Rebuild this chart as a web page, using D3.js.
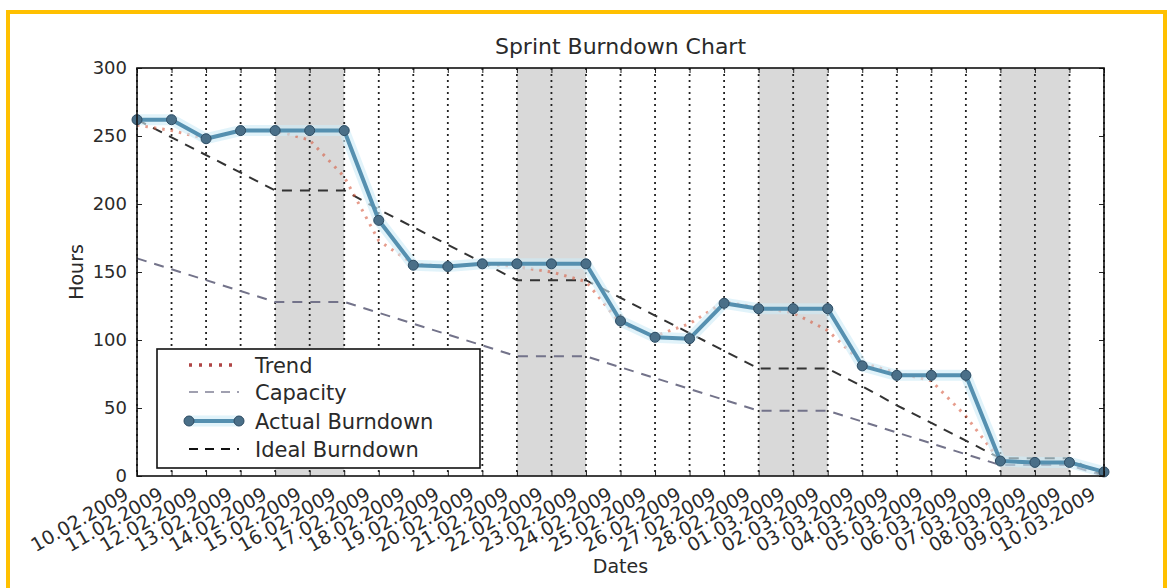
<!DOCTYPE html>
<html>
<head>
<meta charset="utf-8">
<script src="https://cdn.jsdelivr.net/npm/d3@7"></script>
<style>
  body { margin: 0; background: #fff; }
  text { font-family: "DejaVu Sans", sans-serif; fill: #2a2a2a; }
</style>
</head>
<body>
<div id="chart-area"></div>
<script>
// tick labels (one per sprint day)
let dates = ["10.02.2009", "11.02.2009", "12.02.2009", "13.02.2009", "14.02.2009", "15.02.2009",
  "16.02.2009", "17.02.2009", "18.02.2009", "19.02.2009", "20.02.2009", "21.02.2009", "22.02.2009",
  "23.02.2009", "24.02.2009", "25.02.2009", "26.02.2009", "27.02.2009", "28.02.2009", "01.03.2009",
  "02.03.2009", "03.03.2009", "04.03.2009", "05.03.2009", "06.03.2009", "07.03.2009", "08.03.2009",
  "09.03.2009", "10.03.2009"];

let actualBurndown = [262, 262, 248, 254, 254, 254, 254, 188, 155, 154, 156, 156, 156, 156,
  114, 102, 101, 127, 123, 123, 123, 81, 74, 74, 74, 11, 10, 10, 3];

let idealBurndown = [262, 249, 236, 223, 210, 210, 210, 196, 183, 170, 157, 144, 144, 144,
  131, 118, 105, 92, 79, 79, 79, 66, 52, 39, 26, 13, 13, 13, 0];

let capacity = [160, 152, 144, 136, 128, 128, 128, 120, 112, 104, 96, 88, 88, 88,
  80, 72, 64, 56, 48, 48, 48, 40, 32, 24, 16, 8, 8, 8, 0];

let trend = [258, 254, 248, 254, 254, 247, 220, 173, 156, 154, 156, 154, 150, 143,
  112, 103, 112, 128, 124, 120, 107, 83, 76, 70, 44, 11, 10, 10, 3];

// weekends (shaded)
let weekends = [["14.02.2009", "16.02.2009"], ["21.02.2009", "23.02.2009"],
  ["28.02.2009", "02.03.2009"], ["07.03.2009", "09.03.2009"]];

let yTicks = [0, 50, 100, 150, 200, 250, 300];

let legendItems = ["Trend", "Capacity", "Actual Burndown", "Ideal Burndown"];


BurndownChart = function(_parentElement) {
  this.parentElement = _parentElement;
  this.initVis();
};

BurndownChart.prototype.initVis = function() {
  let vis = this;

  vis.margin = { top: 68, right: 66, bottom: 112, left: 137 };
  vis.width = 1170 - vis.margin.left - vis.margin.right;
  vis.height = 588 - vis.margin.top - vis.margin.bottom;

  vis.root = d3.select("#" + vis.parentElement).append("svg")
    .attr("width", 1170)
    .attr("height", 588);

  // yellow frame around the picture
  vis.root.append("rect")
    .attr("x", 8).attr("y", 12)
    .attr("width", 1157).attr("height", 600)
    .attr("fill", "none")
    .attr("stroke", "#ffc000")
    .attr("stroke-width", 4);

  vis.svg = vis.root.append("g")
    .attr("transform", "translate(" + vis.margin.left + "," + vis.margin.top + ")");

  vis.x = d3.scalePoint().domain(dates).range([0, vis.width]);
  vis.y = d3.scaleLinear().domain([0, 300]).range([vis.height, 0]);

  vis.rows = dates.map(function(d, i) {
    return { date: d, actual: actualBurndown[i], ideal: idealBurndown[i], capacity: capacity[i], trend: trend[i] };
  });

  vis.updateVis();
};

BurndownChart.prototype.updateVis = function() {
  let vis = this;

  // weekend shading
  vis.svg.selectAll(".weekend")
    .data(weekends)
    .enter().append("rect")
    .attr("class", "weekend")
    .attr("x", function(d) { return vis.x(d[0]); })
    .attr("width", function(d) { return vis.x(d[1]) - vis.x(d[0]); })
    .attr("y", 0)
    .attr("height", vis.height)
    .attr("fill", "#d9d9d9");

  // vertical dotted grid
  vis.svg.selectAll(".grid")
    .data(dates)
    .enter().append("line")
    .attr("class", "grid")
    .attr("x1", function(d) { return vis.x(d); })
    .attr("x2", function(d) { return vis.x(d); })
    .attr("y1", 0)
    .attr("y2", vis.height)
    .attr("stroke", "#222")
    .attr("stroke-width", 1.8)
    .attr("stroke-dasharray", "2,4");

  let line = function(key) {
    return d3.line()
      .x(function(d) { return vis.x(d.date); })
      .y(function(d) { return vis.y(d[key]); });
  };

  // capacity
  vis.svg.append("path")
    .datum(vis.rows)
    .attr("d", line("capacity"))
    .attr("fill", "none")
    .attr("stroke", "#73738a")
    .attr("stroke-width", 2)
    .attr("stroke-dasharray", "10,8");

  // ideal burndown
  vis.svg.append("path")
    .datum(vis.rows)
    .attr("d", line("ideal"))
    .attr("fill", "none")
    .attr("stroke", "#333")
    .attr("stroke-width", 2)
    .attr("stroke-dasharray", "10,8");

  // trend
  vis.svg.append("path")
    .datum(vis.rows)
    .attr("d", line("trend"))
    .attr("fill", "none")
    .attr("stroke", "#d65a40")
    .attr("stroke-opacity", 0.6)
    .attr("stroke-width", 3)
    .attr("stroke-dasharray", "2.5,6");

  // actual burndown: glow, line, markers
  vis.svg.append("path")
    .datum(vis.rows)
    .attr("d", line("actual"))
    .attr("fill", "none")
    .attr("stroke", "#cdebf6")
    .attr("stroke-opacity", 0.6)
    .attr("stroke-width", 11)
    .attr("stroke-linejoin", "round");

  vis.svg.append("path")
    .datum(vis.rows)
    .attr("d", line("actual"))
    .attr("fill", "none")
    .attr("stroke", "#5590b0")
    .attr("stroke-width", 4)
    .attr("stroke-linejoin", "round");

  vis.svg.selectAll(".dot")
    .data(vis.rows)
    .enter().append("circle")
    .attr("class", "dot")
    .attr("cx", function(d) { return vis.x(d.date); })
    .attr("cy", function(d) { return vis.y(d.actual); })
    .attr("r", 5)
    .attr("fill", "#4a6f88")
    .attr("stroke", "#2e4c63")
    .attr("stroke-width", 1);

  // axes (inward ticks, mirrored)
  vis.xAxis = d3.axisBottom(vis.x).tickSizeInner(-5).tickSizeOuter(0).tickFormat("");
  vis.xAxisTop = d3.axisTop(vis.x).tickSizeInner(-5).tickSizeOuter(0).tickFormat("");
  vis.yAxis = d3.axisLeft(vis.y).tickValues(yTicks).tickSizeInner(-5).tickSizeOuter(0).tickPadding(10);
  vis.yAxisRight = d3.axisRight(vis.y).tickValues(yTicks).tickSizeInner(-5).tickSizeOuter(0).tickFormat("");

  vis.svg.append("g").attr("class", "axis")
    .attr("transform", "translate(0," + vis.height + ")").call(vis.xAxis);
  vis.svg.append("g").attr("class", "axis").call(vis.xAxisTop);
  vis.svg.append("g").attr("class", "axis y-axis").call(vis.yAxis);
  vis.svg.append("g").attr("class", "axis")
    .attr("transform", "translate(" + vis.width + ",0)").call(vis.yAxisRight);

  vis.svg.selectAll(".axis .domain").remove();
  vis.svg.selectAll(".axis line").attr("stroke", "#222");
  vis.svg.selectAll(".y-axis text")
    .style("font-size", "18px")
    .style("font-family", "DejaVu Sans")
    .attr("fill", "#2a2a2a");

  // frame
  vis.svg.append("rect")
    .attr("width", vis.width).attr("height", vis.height)
    .attr("fill", "none").attr("stroke", "#111").attr("stroke-width", 1.6);

  // rotated date labels
  vis.svg.selectAll(".date-label")
    .data(dates)
    .enter().append("text")
    .attr("class", "date-label")
    .attr("text-anchor", "end")
    .attr("transform", function(d) {
      return "translate(" + (vis.x(d) - 7) + "," + (vis.height + 22) + ") rotate(-30)";
    })
    .style("font-size", "19px")
    .text(function(d) { return d; });

  // titles
  vis.svg.append("text")
    .attr("x", vis.width / 2).attr("y", -14)
    .attr("text-anchor", "middle")
    .style("font-size", "22px")
    .text("Sprint Burndown Chart");

  vis.svg.append("text")
    .attr("x", vis.width / 2).attr("y", vis.height + 97)
    .attr("text-anchor", "middle")
    .style("font-size", "19px")
    .text("Dates");

  vis.svg.append("text")
    .attr("transform", "translate(-54," + (vis.height / 2) + ") rotate(-90)")
    .attr("text-anchor", "middle")
    .style("font-size", "19px")
    .text("Hours");

  // legend
  let legend = vis.svg.append("g")
    .attr("transform", "translate(20," + (vis.height - 127) + ")");

  legend.append("rect")
    .attr("width", 323).attr("height", 119)
    .attr("fill", "#fff").attr("stroke", "#111").attr("stroke-width", 1.6);

  let rowY = [16, 43, 72, 100];
  let item = legend.selectAll(".legend-item")
    .data(legendItems)
    .enter().append("g")
    .attr("class", "legend-item")
    .attr("transform", function(d, i) { return "translate(0," + rowY[i] + ")"; });

  item.append("text")
    .attr("x", 98).attr("y", 8)
    .style("font-size", "21px")
    .text(function(d) { return d; });

  let sample = function(i) { return legend.select(".legend-item:nth-child(" + (i + 2) + ")"); };

  sample(0).append("line")
    .attr("x1", 32).attr("x2", 82)
    .attr("stroke", "#b04545").attr("stroke-width", 3.5).attr("stroke-dasharray", "3,7");
  sample(1).append("line")
    .attr("x1", 32).attr("x2", 82)
    .attr("stroke", "#a0a0b0").attr("stroke-width", 2.2).attr("stroke-dasharray", "9,7");
  sample(2).append("line")
    .attr("x1", 32).attr("x2", 82)
    .attr("stroke", "#cdebf6").attr("stroke-width", 11).attr("stroke-opacity", 0.6);
  sample(2).append("line")
    .attr("x1", 32).attr("x2", 82)
    .attr("stroke", "#5590b0").attr("stroke-width", 4);
  sample(2).selectAll("circle")
    .data([32, 82])
    .enter().append("circle")
    .attr("cx", function(d) { return d; })
    .attr("r", 5).attr("fill", "#4a6f88").attr("stroke", "#2e4c63");
  sample(3).append("line")
    .attr("x1", 32).attr("x2", 82)
    .attr("stroke", "#111").attr("stroke-width", 2).attr("stroke-dasharray", "9,7");
};

new BurndownChart("chart-area");
</script>
</body>
</html>
